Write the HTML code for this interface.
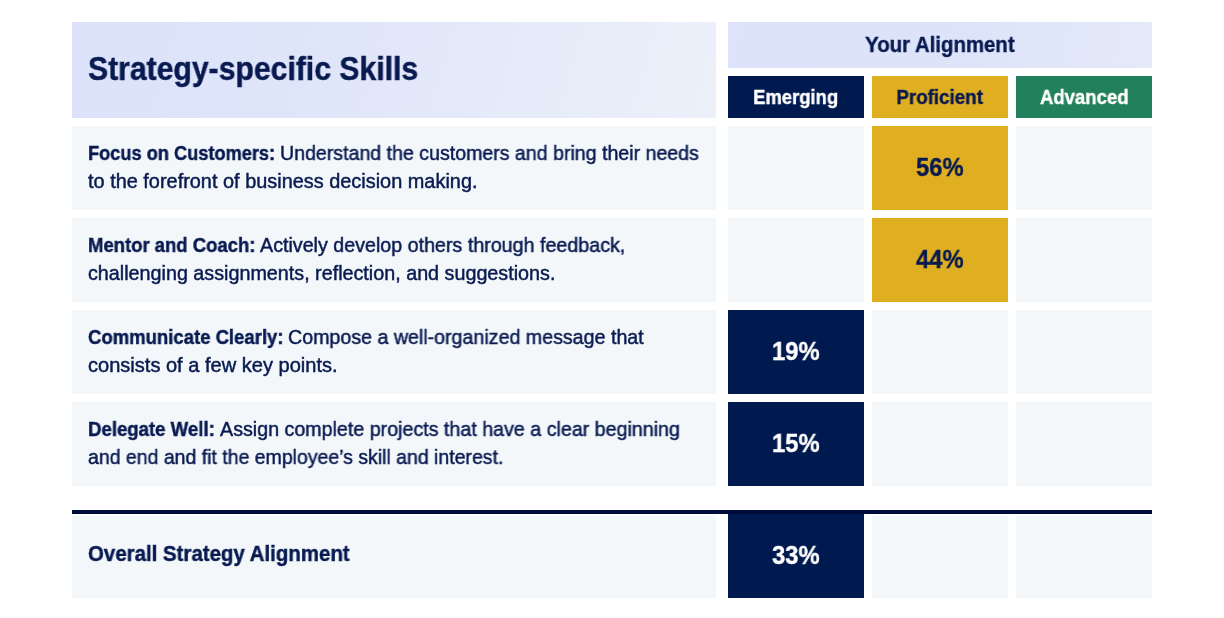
<!DOCTYPE html>
<html>
<head>
<meta charset="utf-8">
<style>
html,body{margin:0;padding:0;background:#fff;}
body{width:1224px;height:618px;position:relative;overflow:hidden;font-family:"Liberation Sans",Arial,sans-serif;color:#081a50;}
.c{position:absolute;box-sizing:border-box;}
.ln{position:absolute;left:88px;white-space:nowrap;transform-origin:0 0;will-change:transform;-webkit-text-stroke:0.45px currentColor;}
.ln b{font-weight:bold;}
.ctr{position:absolute;white-space:nowrap;text-align:center;font-weight:bold;}
.ctr span{display:inline-block;will-change:transform;-webkit-text-stroke:0.4px currentColor;}
.hdr{left:72px;top:22px;width:644px;height:96px;background:linear-gradient(106deg,#dbe2fa 0%,#e0e6f9 40%,#ebf0f9 100%);}
.ya{left:728px;top:22px;width:424px;height:46px;background:linear-gradient(100deg,#dce3fa 0%,#dde4f9 55%,#e4eaf8 100%);}
.sub{top:76px;width:136px;height:42px;}
.row{left:72px;width:644px;height:84px;background:#f3f7fa;}
.cell{width:136px;height:84px;background:#f3f7fa;}
.em{background:#001a50;color:#fff;}
.pr{background:#e0ae21;color:#081a50;}
.ad{background:#22805c;color:#fff;}
.line{left:72px;top:510px;width:1080px;height:4px;background:#000c3a;}
</style>
</head>
<body>
<div class="c hdr"></div>
<div class="c ya"></div>
<div class="c sub em" style="left:728px"></div>
<div class="c sub pr" style="left:872px"></div>
<div class="c sub ad" style="left:1016px"></div>
<div class="ln" style="top:48.70px;font-size:32.6px;line-height:40px;font-weight:bold;transform:scaleX(0.9257)">Strategy-specific Skills</div>
<div class="ctr" style="left:790px;width:300px;top:25.17px;font-size:22.6px;line-height:40px;"><span style="transform:scaleX(0.9025)">Your Alignment</span></div>
<div class="ctr" style="left:646px;width:300px;top:76.94px;font-size:19.8px;line-height:40px;color:#fff;"><span style="transform:scaleX(0.9311)">Emerging</span></div>
<div class="ctr" style="left:790px;width:300px;top:76.94px;font-size:19.8px;line-height:40px;"><span style="transform:scaleX(0.9488)">Proficient</span></div>
<div class="ctr" style="left:934px;width:300px;top:76.94px;font-size:19.8px;line-height:40px;color:#fff;"><span style="transform:scaleX(0.9363)">Advanced</span></div>
<div class="c row" style="top:126px"></div>
<div class="ln" style="left:88.00px;top:138.77px;font-size:19.7px;line-height:28px;font-weight:bold;transform:scaleX(0.9247)">Focus on Customers:</div>
<div class="ln" style="left:280.03px;top:138.77px;font-size:19.7px;line-height:28px;font-weight:normal;transform:scaleX(0.9940)">Understand the customers and bring their needs</div>
<div class="ln" style="left:88.00px;top:166.77px;font-size:19.7px;line-height:28px;font-weight:normal;transform:scaleX(1.0111)">to the forefront of business decision making.</div>
<div class="c cell" style="left:728px;top:126px"></div>
<div class="c cell pr" style="left:872px;top:126px"></div>
<div class="ctr" style="left:790px;width:300px;top:146.56px;font-size:25.8px;line-height:40px;"><span style="transform:scaleX(0.9208)">56%</span></div>
<div class="c cell" style="left:1016px;top:126px"></div>
<div class="c row" style="top:218px"></div>
<div class="ln" style="left:88.00px;top:230.77px;font-size:19.7px;line-height:28px;font-weight:bold;transform:scaleX(0.9391)">Mentor and Coach:</div>
<div class="ln" style="left:260.33px;top:230.77px;font-size:19.7px;line-height:28px;font-weight:normal;transform:scaleX(0.9992)">Actively develop others through feedback,</div>
<div class="ln" style="left:88.00px;top:258.77px;font-size:19.7px;line-height:28px;font-weight:normal;transform:scaleX(1.0025)">challenging assignments, reflection, and suggestions.</div>
<div class="c cell" style="left:728px;top:218px"></div>
<div class="c cell pr" style="left:872px;top:218px"></div>
<div class="ctr" style="left:790px;width:300px;top:238.56px;font-size:25.8px;line-height:40px;"><span style="transform:scaleX(0.9208)">44%</span></div>
<div class="c cell" style="left:1016px;top:218px"></div>
<div class="c row" style="top:310px"></div>
<div class="ln" style="left:88.00px;top:322.77px;font-size:19.7px;line-height:28px;font-weight:bold;transform:scaleX(0.9405)">Communicate Clearly:</div>
<div class="ln" style="left:288.39px;top:322.77px;font-size:19.7px;line-height:28px;font-weight:normal;transform:scaleX(0.9969)">Compose a well-organized message that</div>
<div class="ln" style="left:88.00px;top:350.77px;font-size:19.7px;line-height:28px;font-weight:normal;transform:scaleX(1.0181)">consists of a few key points.</div>
<div class="c cell em" style="left:728px;top:310px"></div>
<div class="ctr" style="left:646px;width:300px;top:330.56px;font-size:25.8px;line-height:40px;color:#fff;"><span style="transform:scaleX(0.9208)">19%</span></div>
<div class="c cell" style="left:872px;top:310px"></div>
<div class="c cell" style="left:1016px;top:310px"></div>
<div class="c row" style="top:402px"></div>
<div class="ln" style="left:88.00px;top:414.77px;font-size:19.7px;line-height:28px;font-weight:bold;transform:scaleX(0.9446)">Delegate Well:</div>
<div class="ln" style="left:219.67px;top:414.77px;font-size:19.7px;line-height:28px;font-weight:normal;transform:scaleX(0.9983)">Assign complete projects that have a clear beginning</div>
<div class="ln" style="left:88.00px;top:442.77px;font-size:19.7px;line-height:28px;font-weight:normal;transform:scaleX(0.9891)">and end and fit the employee’s skill and interest.</div>
<div class="c cell em" style="left:728px;top:402px"></div>
<div class="ctr" style="left:646px;width:300px;top:422.56px;font-size:25.8px;line-height:40px;color:#fff;"><span style="transform:scaleX(0.9208)">15%</span></div>
<div class="c cell" style="left:872px;top:402px"></div>
<div class="c cell" style="left:1016px;top:402px"></div>
<div class="c line"></div>
<div class="c row" style="top:516px;height:82px"></div>
<div class="ln" style="top:539.78px;font-size:21.7px;line-height:28px;font-weight:bold;transform:scaleX(0.9426)">Overall Strategy Alignment</div>
<div class="c cell em" style="left:728px;top:514px"></div>
<div class="ctr" style="left:646px;width:300px;top:534.56px;font-size:25.8px;line-height:40px;color:#fff;"><span style="transform:scaleX(0.9208)">33%</span></div>
<div class="c cell" style="left:872px;top:516px;height:82px"></div>
<div class="c cell" style="left:1016px;top:516px;height:82px"></div>
</body>
</html>
